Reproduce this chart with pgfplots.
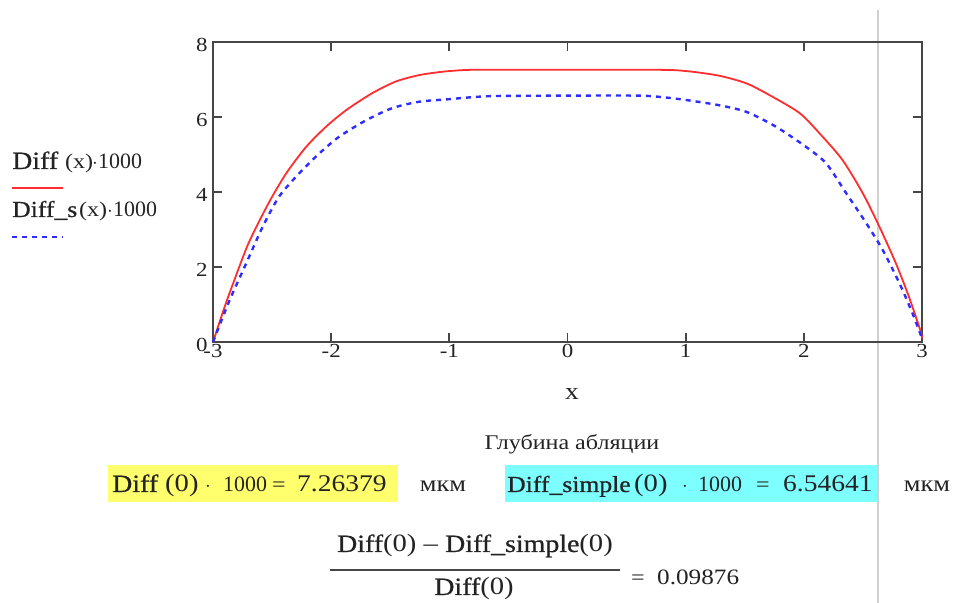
\documentclass[border=0pt]{standalone}
\usepackage{pgfplots}
\pgfplotsset{compat=1.18}
\usepackage{fontspec}
\setmainfont[FakeStretch=1.15]{Liberation Serif}
\newfontfamily\nf{Liberation Serif}
\newfontfamily\df[FakeStretch=1.12,FakeBold=0.7]{Liberation Serif}
\definecolor{cred}{RGB}{255,45,45}
\definecolor{cblue}{RGB}{45,45,255}
\definecolor{cyel}{RGB}{255,255,110}
\definecolor{ccyan}{RGB}{125,255,255}
\definecolor{axc}{RGB}{70,70,70}
\definecolor{txc}{RGB}{35,35,35}
\newcommand{\pc}[4]{\node[anchor=base west, inner sep=0pt, text=txc, font=\fontsize{#3}{#3}\selectfont] at (#1,#2) {#4};}
\newcommand{\pcc}[4]{\node[anchor=base, inner sep=0pt, text=txc, font=\fontsize{#3}{#3}\selectfont] at (#1,#2) {#4};}
\begin{document}
\begin{tikzpicture}
\useasboundingbox (0bp,0bp) rectangle (955bp,603bp);
\draw[black!18, line width=1.6bp] (878bp,593bp) -- (878bp,0bp);
\begin{axis}[at={(213bp,261bp)}, anchor=south west, scale only axis,
  width=709bp, height=300bp,
  xmin=-3, xmax=3, ymin=0, ymax=8,
  xtick={-3,-2,-1,0,1,2,3}, ytick={0,2,4,6,8},
  tick align=inside, major tick length=9bp,
  axis line style={line width=1.8bp, axc},
  every tick/.style={axc, line width=1.8bp},
  tick label style={font=\fontsize{20}{21}\selectfont, text=txc},
  yticklabel style={xshift=-2bp, yshift=-3bp},
  xticklabel style={yshift=1bp},
  /pgf/number format/assume math mode=true,
  clip=false]
\addplot[cred, line width=1.8bp, smooth, tension=0.45] coordinates {
(-3,0) (-2.9,0.95) (-2.83,1.56) (-2.70,2.63) (-2.53,3.70) (-2.38,4.50)
(-2.21,5.21) (-2.04,5.75) (-1.87,6.19) (-1.65,6.64) (-1.45,6.95)
(-1.25,7.12) (-1.05,7.21) (-0.85,7.255) (-0.6,7.26) (0,7.26) (0.6,7.26)
(0.9,7.25) (1.1,7.19) (1.3,7.09) (1.52,6.89) (1.74,6.53) (1.97,6.09)
(2.16,5.47) (2.33,4.84) (2.50,3.96) (2.64,3.07) (2.78,2.09) (2.89,1.20)
(2.99,0.27) (3,0.1)};
\addplot[cblue, line width=2.4bp, dash pattern=on 5bp off 5bp, smooth, tension=0.45] coordinates {
(-3,0) (-2.86,1.11) (-2.72,2.09) (-2.58,3.07) (-2.44,3.88) (-2.27,4.50)
(-2.10,5.03) (-1.93,5.48) (-1.70,5.92) (-1.48,6.24) (-1.25,6.41)
(-1.02,6.47) (-0.8,6.53) (-0.6,6.56) (0,6.57) (0.6,6.57) (0.8,6.53)
(1.01,6.45) (1.29,6.31) (1.52,6.13) (1.77,5.73) (2.02,5.20) (2.19,4.76)
(2.36,3.96) (2.53,3.16) (2.67,2.44) (2.81,1.56) (2.92,0.76) (3,0.1)};
\end{axis}
\begin{scope}[x=1bp, y=-1bp, shift={(0bp,603bp)}]
% x label
\pcc{572}{400}{24}{x}
% legend
\pc{12}{169}{25}{\df Diff}
\pc{65}{169}{21}{(x)}
\pcc{95}{169}{20}{$\cdot$}
\pc{98}{169}{22}{\nf 1000}
\draw[cred, line width=1.8bp] (12,188) -- (63,188);
\pc{12}{217}{23}{\df Diff\_s}
\pc{79}{217}{21}{(x)}
\pcc{110}{217}{20}{$\cdot$}
\pc{113}{217}{22}{\nf 1000}
\draw[cblue, line width=2.4bp, dash pattern=on 5bp off 5bp] (12,237) -- (63,237);
% heading
\pcc{572}{450}{21}{Глубина абляции}
% yellow row
\fill[cyel] (108,465) rectangle (398,502);
\pc{112}{492}{25}{\df Diff}
\pc{165}{492}{25}{(0)}
\pcc{208}{492}{22}{$\cdot$}
\pc{223}{492}{22}{\nf 1000}
\pc{272}{492}{21}{=}
\pc{297}{492}{24}{7.26379}
\pcc{443}{492}{23}{мкм}
% cyan row
\fill[ccyan] (505,465) rectangle (877,502);
\pc{507}{492}{23}{\df Diff\_simple}
\pc{634}{492}{25}{(0)}
\pcc{685}{492}{22}{$\cdot$}
\pc{698}{492}{22}{\nf 1000}
\pc{756}{492}{21}{=}
\pc{783}{492}{24}{6.54641}
\pcc{927}{492}{23}{мкм}
% fraction
\pcc{475}{552}{25}{{\df Diff}(0) – {\df Diff\_simple}(0)}
\draw[axc, line width=2bp] (330,570) -- (620,570);
\pcc{474}{595}{25}{{\df Diff}(0)}
\pc{631}{585}{21}{=}
\pc{657}{585}{22}{0.09876}
\end{scope}
\end{tikzpicture}
\end{document}
